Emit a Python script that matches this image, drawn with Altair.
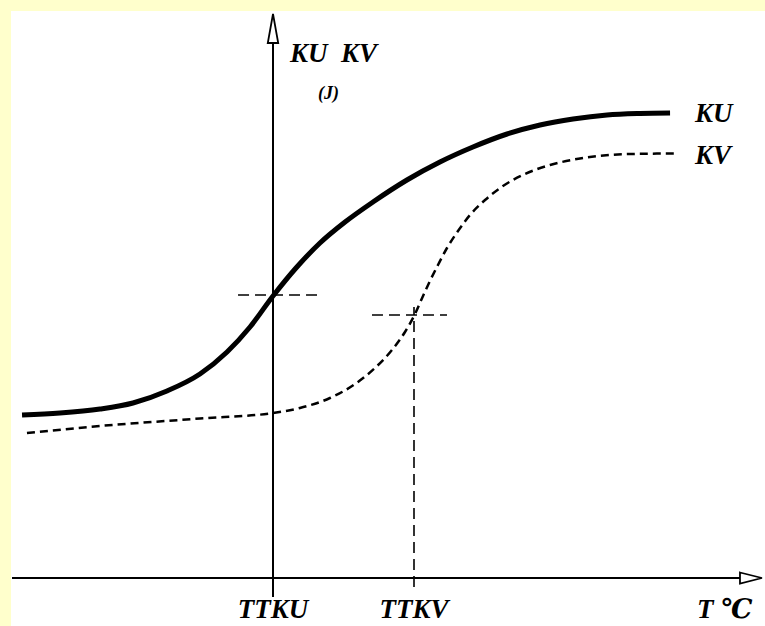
import altair as alt
import pandas as pd

# --- data (T in units where TTKU = 0, TTKV = 1; K in arbitrary units, 0 on the T axis) ---
ku_t = [-1.780, -1.511, -1.227, -0.993, -0.752, -0.518, -0.326, -0.163, 0.0, 0.163, 0.333,
        0.511, 0.709, 0.950, 1.184, 1.418, 1.660, 1.894, 2.128, 2.369, 2.603, 2.816]
ku_k = [1.63, 1.65, 1.69, 1.75, 1.87, 2.04, 2.26, 2.51, 2.82, 3.10, 3.35,
        3.56, 3.76, 3.98, 4.16, 4.31, 4.44, 4.53, 4.59, 4.63, 4.645, 4.65]

kv_t = [-1.745, -1.227, -0.518, 0.0, 0.191, 0.404, 0.582, 0.723, 0.844, 0.936, 1.007,
        1.064, 1.113, 1.170, 1.234, 1.312, 1.397, 1.504, 1.631, 1.787, 1.965, 2.177,
        2.390, 2.603, 2.865]
kv_k = [1.45, 1.52, 1.595, 1.65, 1.70, 1.80, 1.94, 2.10, 2.28, 2.46, 2.64,
        2.82, 2.97, 3.13, 3.30, 3.47, 3.63, 3.78, 3.92, 4.04, 4.13, 4.195,
        4.23, 4.242, 4.245]

TTKU = 0.0
TTKV = 1.0
KU_CROSS = 2.83
KV_CROSS = 2.63

tick_labels = ["TTKU", "TTKV"]
tick_pos = [TTKU, TTKV]

X_DOMAIN = [-1.8582, 3.4894]
Y_DOMAIN = [-0.48, 5.67]

FONT = "'Liberation Serif', 'DejaVu Serif', serif"


def X(field="t"):
    return alt.X(f"{field}:Q", scale=alt.Scale(domain=X_DOMAIN, nice=False, zero=False), axis=None)


def Y(field="k"):
    return alt.Y(f"{field}:Q", scale=alt.Scale(domain=Y_DOMAIN, nice=False, zero=False), axis=None)


ku_df = pd.DataFrame({"t": ku_t, "k": ku_k})
kv_df = pd.DataFrame({"t": kv_t, "k": kv_k})

# axes drawn as rules through the origin
x_axis = alt.Chart(pd.DataFrame({"t": [-1.851], "t2": [3.312], "k": [0.0]})).mark_rule(
    color="black", strokeWidth=2).encode(x=X(), x2="t2:Q", y=Y())
y_axis = alt.Chart(pd.DataFrame({"t": [TTKU], "k": [-0.19], "k2": [5.35]})).mark_rule(
    color="black", strokeWidth=2).encode(x=X(), y=Y(), y2="k2:Q")

up_arrow = alt.Chart(pd.DataFrame({"t": [TTKU], "k": [5.495]})).mark_point(
    shape="M0,-1L0.36,1L-0.36,1Z", size=841, filled=True, fill="white",
    stroke="black", strokeWidth=1.8, opacity=1).encode(x=X(), y=Y())
right_arrow = alt.Chart(pd.DataFrame({"t": [3.39], "k": [0.0]})).mark_point(
    shape="M-1,-0.5L1,0L-1,0.5Z", size=484, filled=True, fill="white",
    stroke="black", strokeWidth=1.8, opacity=1).encode(x=X(), y=Y())

ku_line = alt.Chart(ku_df).mark_line(color="black", strokeWidth=5, interpolate="monotone",
                                     strokeCap="butt").encode(x=X(), y=Y())
kv_line = alt.Chart(kv_df).mark_line(color="black", strokeWidth=2.5, interpolate="monotone",
                                     strokeDash=[8, 5]).encode(x=X(), y=Y())

cross_h = alt.Chart(pd.DataFrame({
    "t": [-0.248, 0.702], "t2": [0.348, 1.234], "k": [KU_CROSS, KV_CROSS]})).mark_rule(
    color="black", strokeWidth=1.6, strokeDash=[11, 6]).encode(x=X(), x2="t2:Q", y=Y())
cross_v = alt.Chart(pd.DataFrame({"t": [TTKV], "k": [-0.09], "k2": [KV_CROSS + 0.08]})).mark_rule(
    color="black", strokeWidth=1.6, strokeDash=[11, 6]).encode(x=X(), y=Y(), y2="k2:Q")

text_style = dict(font=FONT, fontStyle="italic", fontWeight="bold", color="black",
                  baseline="alphabetic")

ticks = alt.Chart(pd.DataFrame({"t": tick_pos, "k": [-0.40, -0.40], "label": tick_labels})).mark_text(
    align="center", fontSize=27, **text_style).encode(x=X(), y=Y(), text="label:N")

left_labels = alt.Chart(pd.DataFrame({
    "t": [3.007, 0.121, 2.993, 2.993],
    "k": [-0.40, 5.16, 4.56, 4.14],
    "label": ["T \u2103", "KU\u00a0\u00a0KV", "KU", "KV"]})).mark_text(
    align="left", fontSize=27, **text_style).encode(x=X(), y=Y(), text="label:N")

unit_label = alt.Chart(pd.DataFrame({"t": [0.319], "k": [4.79], "label": ["(J)"]})).mark_text(
    align="left", fontSize=18, **text_style).encode(x=X(), y=Y(), text="label:N")

chart = alt.layer(
    x_axis, y_axis, cross_h, cross_v, kv_line, ku_line, up_arrow, right_arrow,
    ticks, left_labels, unit_label
).properties(
    width=754, height=615,
    autosize=alt.AutoSizeParams(type="none"),
    padding={"left": 11, "top": 11, "right": 0, "bottom": 0},
    background="#FFFFCC",
).configure_view(fill="white", stroke=None)

chart.save("out.html", embed_options={"renderer": "svg", "actions": False})
